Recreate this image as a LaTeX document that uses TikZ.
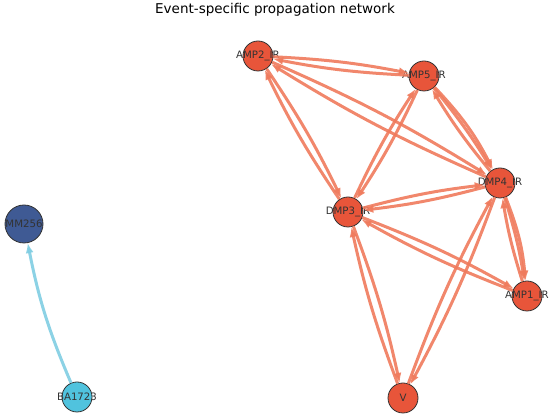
\documentclass[tikz,border=0pt]{standalone}
\usepackage{fontspec}
\setmainfont{DejaVu Sans}
\usepackage{tikz}
\usetikzlibrary{arrows.meta}

\definecolor{nodered}{HTML}{E8553A}
\definecolor{edgered}{HTML}{EF7A5C}
\definecolor{nodenavy}{HTML}{3F5A94}
\definecolor{nodecyan}{HTML}{50C3DE}
\definecolor{edgecyan}{HTML}{7FCDE2}
\definecolor{rim}{HTML}{333333}

\tikzset{
  vert/.style={draw=rim, line width=0.8pt, circle, minimum size=30pt, inner sep=0pt},
  lbl/.style={text=rim, font=\fontsize{10.2}{12}\selectfont, inner sep=0pt},
  edge/.style={draw=edgered, opacity=0.9, line width=3pt,
    -{Latex[length=10pt,width=8pt]}},
}

\begin{document}
\begin{tikzpicture}[x=1pt, y=-1pt]
\useasboundingbox (0,0) rectangle (550,419);

\node[font=\fontsize{13.5}{15}\selectfont] (title) at (275,10) {Event-specific propagation network};

% Event nodes
\foreach \x/\y/\name/\txt in {258/56/amp2/AMP2\_IR, 424/76/amp5/AMP5\_IR, 500/183/dmp4/DMP4\_IR,
    348/212/dmp3/DMP3\_IR, 527/296/amp1/AMP1\_IR, 403/398/v/V}
  \node[vert, fill=nodered, label={[lbl, name=\name-l]center:\txt}] (\name) at (\x,\y) {};

\node[vert, fill=nodenavy, minimum size=38pt, label={[lbl, name=mm-l]center:MM256}] (mm) at (24,224) {};
\node[vert, fill=nodecyan, label={[lbl, name=ba-l]center:BA1723}] (ba) at (77,397) {};

% Propagation edges
\foreach \a/\b in {amp2/amp5, amp5/amp2, amp2/dmp3, dmp3/amp2, amp2/dmp4, dmp4/amp2,
    amp5/dmp3, dmp3/amp5, amp5/dmp4, dmp4/amp5, dmp4/dmp3, dmp3/dmp4,
    dmp4/amp1, amp1/dmp4, dmp3/amp1, amp1/dmp3, dmp3/v, v/dmp3, dmp4/v, v/dmp4}
  \draw[edge] (\a) to[bend left=4] (\b);
\foreach \a/\b in {amp5/dmp4, dmp4/amp1}
  \draw[edge] (\a) to[bend left=8] (\b);

\draw[edge, draw=edgecyan] (ba) to[bend left=6] (mm);

\end{tikzpicture}
\end{document}
